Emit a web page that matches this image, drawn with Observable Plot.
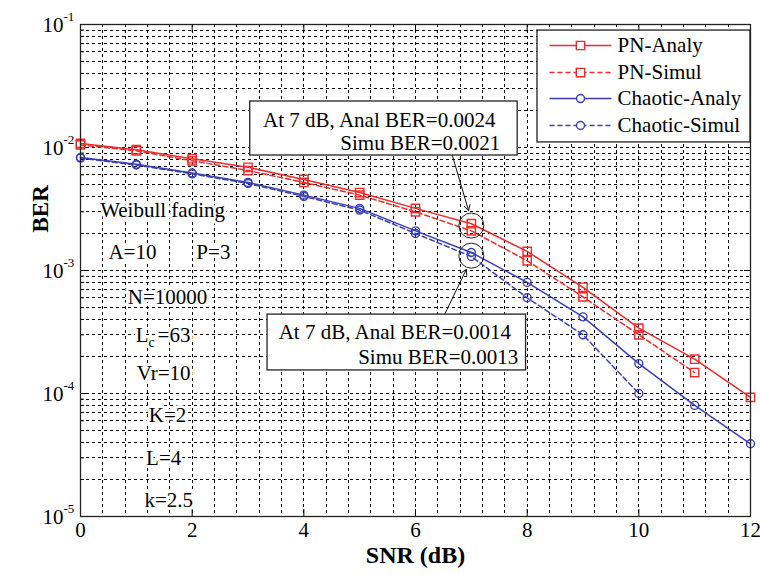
<!DOCTYPE html>
<html><head><meta charset="utf-8">
<script src="https://cdn.jsdelivr.net/npm/d3@7"></script>
<script src="https://cdn.jsdelivr.net/npm/@observablehq/plot@0.6"></script>
<style>body{margin:0;background:#fff;} #chart svg{display:block}</style>
</head><body><div id="chart"></div>
<script>
// ---------- data ----------
const snr = [0,1,2,3,4,5,6,7,8,9,10,11,12];
const pnAnaly = [0.0108,0.0096,0.0081,0.0069,0.0055,0.0043,0.0032,0.0024,0.00143,0.00073,0.00034,0.00019,0.000093];
const pnSimul = [0.0105,0.0094,0.0078,0.0065,0.0052,0.0041,0.0030,0.0021,0.0012,0.00061,0.00030,0.000148];
const chAnaly = [0.0083,0.0073,0.0062,0.0052,0.0041,0.0032,0.0021,0.0014,0.0008,0.00042,0.000175,0.00008,0.000039];
const chSimul = [0.0082,0.0072,0.0061,0.0051,0.0040,0.0031,0.0020,0.0013,0.0006,0.0003,0.0001];
const seriesNames = ["PN-Analy","PN-Simul","Chaotic-Analy","Chaotic-Simul"];
const xTicks = [0,2,4,6,8,10,12];
const yTicks = [1e-5,1e-4,1e-3,1e-2,1e-1];
const paramLabels = ["Weibull fading","A=10","P=3","N=10000","Vr=10","K=2","L=4","k=2.5"];
const lcLabel = ["L","c","=63"];
const note1 = ["At 7 dB, Anal BER=0.0024","Simu BER=0.0021"];
const note2 = ["At 7 dB, Anal BER=0.0014","Simu BER=0.0013"];

// ---------- layout (data coordinates of annotations) ----------
const paramAt = [[1.47,0.00307],[0.93,0.0014],[2.38,0.0014],[1.56,0.000603],[1.49,0.000146],[1.56,6.62e-5],[1.49,2.96e-5],[1.58,1.35e-5]];
const lcAt = [1.47,0.000296];
const box1 = {x1:3.04,x2:7.83,y1:0.02366,y2:0.00861};
const box2 = {x1:3.35,x2:7.98,y1:0.000438,y2:0.000154};
const note1At = [[3.27,0.0168,"start"],[7.52,0.0108,"end"]];
const note2At = [[3.55,0.000315,"start"],[7.84,0.000198,"end"]];
const circ = [[7,0.00232],[7,0.00132]];
const arrows = [{x1:6.66,y1:0.00861,x2:6.95,y2:0.00307},{x1:6.52,y1:0.000438,x2:6.91,y2:0.00102}];
const legBox = {x1:8.185,x2:12,y1:0.0893,y2:0.0110};
const legY = [0.0675,0.0407,0.0250,0.0151];
const legLine = [8.40,9.51], legMark = 8.955, legText = 9.62;

// ---------- styles ----------
const FONT = "'Liberation Serif','Times New Roman',serif";
const RED = "#ee2a2a", BLUE = "#3a3fb8";
const styles = [
  {color:RED, dash:null, symbol:"square", r:4.7},
  {color:RED, dash:"5,3", symbol:"square", r:4.7},
  {color:BLUE, dash:null, symbol:"circle", r:4},
  {color:BLUE, dash:"5,3", symbol:"circle", r:4}
];
const values = [pnAnaly, pnSimul, chAnaly, chSimul];
const tables = values.map((vs, k) => vs.map((v, i) => ({x: snr[i], y: v, name: seriesNames[k]})));

const xGrid = d3.range(1, 30).map(i => +(i * 0.4).toFixed(1));
const yGrid = [];
for (let e = -5; e <= -2; e++) for (let k = 1; k <= 9; k++) { if (!(e === -5 && k === 1)) yGrid.push(k * Math.pow(10, e)); }
const yMinor = yGrid.filter(v => !yTicks.some(t => Math.abs(t - v) / t < 1e-9));

const gridStyle = {stroke:"#000", strokeWidth:1, strokeDasharray:"3,3", shapeRendering:"crispEdges"};
const halo = {fill:"black", stroke:"white", strokeWidth:6, paintOrder:"stroke"};
const FS = 21;

const marks = [
  Plot.ruleX(xGrid, {x: d => d, ...gridStyle}),
  Plot.ruleY(yGrid, {y: d => d, ...gridStyle}),
  Plot.axisX({anchor:"bottom", ticks: xTicks, tickSize:-7, tickFormat: () => "", label:null}),
  Plot.axisX({anchor:"top", ticks: xTicks, tickSize:-7, tickFormat: () => "", label:null}),
  Plot.axisY({anchor:"left", ticks: yTicks, tickSize:-7, tickFormat: () => "", label:null}),
  Plot.axisY({anchor:"right", ticks: yTicks, tickSize:-7, tickFormat: () => "", label:null}),
  Plot.axisY({anchor:"left", ticks: yMinor, tickSize:-4, tickFormat: () => "", label:null}),
  Plot.text(paramLabels, {x: (d,i) => paramAt[i][0], y: (d,i) => paramAt[i][1], text: d => d, fontSize:FS, ...halo}),
  Plot.text([lcLabel[0]], {x: () => lcAt[0], y: () => lcAt[1], text: d => d, textAnchor:"end", dx:-14, fontSize:FS, ...halo}),
  Plot.text([lcLabel[1]], {x: () => lcAt[0], y: () => lcAt[1], text: d => d, textAnchor:"start", dx:-14, dy:7, fontSize:14, ...halo, strokeWidth:4}),
  Plot.text([lcLabel[2]], {x: () => lcAt[0], y: () => lcAt[1], text: d => d, textAnchor:"start", dx:-5, fontSize:FS, ...halo}),
];
tables.forEach((t, k) => {
  const s = styles[k];
  marks.push(Plot.line(t, {x:"x", y:"y", stroke:s.color, strokeWidth:1.5, strokeDasharray:s.dash || undefined}));
  marks.push(Plot.dot(t, {x:"x", y:"y", stroke:s.color, symbol:s.symbol, r:s.r, strokeWidth:1.4, fill:"none"}));
});
marks.push(
  Plot.dot(circ, {x: d => d[0], y: d => d[1], r:12.5, stroke:"#222", strokeWidth:1, fill:"none"}),
  Plot.arrow(arrows, {x1:"x1", y1:"y1", x2:"x2", y2:"y2", stroke:"#111", strokeWidth:1, headLength:9}),
  Plot.rect([box1, box2], {x1:"x1", x2:"x2", y1:"y1", y2:"y2", fill:"white", stroke:"#222", strokeWidth:1.3})
);
[[note1, note1At],[note2, note2At]].forEach(([txt, at]) => {
  txt.forEach((t, i) => {
    marks.push(Plot.text([t], {x: () => at[i][0], y: () => at[i][1], text: d => d, textAnchor: at[i][2], fontSize:FS, fill:"black"}));
  });
});
marks.push(Plot.rect([legBox], {x1:"x1", x2:"x2", y1:"y1", y2:"y2", fill:"white", stroke:"#222", strokeWidth:1.3}));
seriesNames.forEach((name, k) => {
  const s = styles[k];
  marks.push(Plot.link([name], {x1: () => legLine[0], x2: () => legLine[1], y1: () => legY[k], y2: () => legY[k], stroke:s.color, strokeWidth:1.5, strokeDasharray:s.dash || undefined}));
  marks.push(Plot.dot([name], {x: () => legMark, y: () => legY[k], stroke:s.color, symbol:s.symbol, r:s.r, strokeWidth:1.4, fill:"white"}));
  marks.push(Plot.text([name], {x: () => legText, y: () => legY[k], text: d => d, textAnchor:"start", fontSize:FS, fill:"black"}));
});
marks.push(
  Plot.text(xTicks, {x: d => d, y: () => 1e-5, text: d => String(d), dy:14, fontSize:FS, fill:"black"}),
  Plot.text(yTicks, {x: () => 0, y: d => d, text: () => "10", textAnchor:"end", dx:-17, dy:1, fontSize:FS, fill:"black"}),
  Plot.text(yTicks, {x: () => 0, y: d => d, text: d => String(Math.round(Math.log10(d))), textAnchor:"start", dx:-17, dy:-8, fontSize:13, fill:"black"}),
  Plot.text(["BER"], {frameAnchor:"left", text: d => d, rotate:-90, dx:-40, dy:-38, fontSize:23, fontWeight:"bold", fill:"black"}),
  Plot.text(["SNR (dB)"], {frameAnchor:"bottom", text: d => d, dy:46, fontSize:24, fontWeight:"bold", fill:"black"}),
  Plot.frame({stroke:"#222", strokeWidth:1.3})
);

const chart = Plot.plot({
  width:760, height:575,
  marginLeft:80, marginRight:10, marginTop:24, marginBottom:59,
  x:{domain:[0,12]},
  y:{type:"log", domain:[1e-5,1e-1]},
  style:{fontFamily:FONT, background:"white", color:"black"},
  marks
});
document.getElementById("chart").appendChild(chart);
</script>
</body></html>
